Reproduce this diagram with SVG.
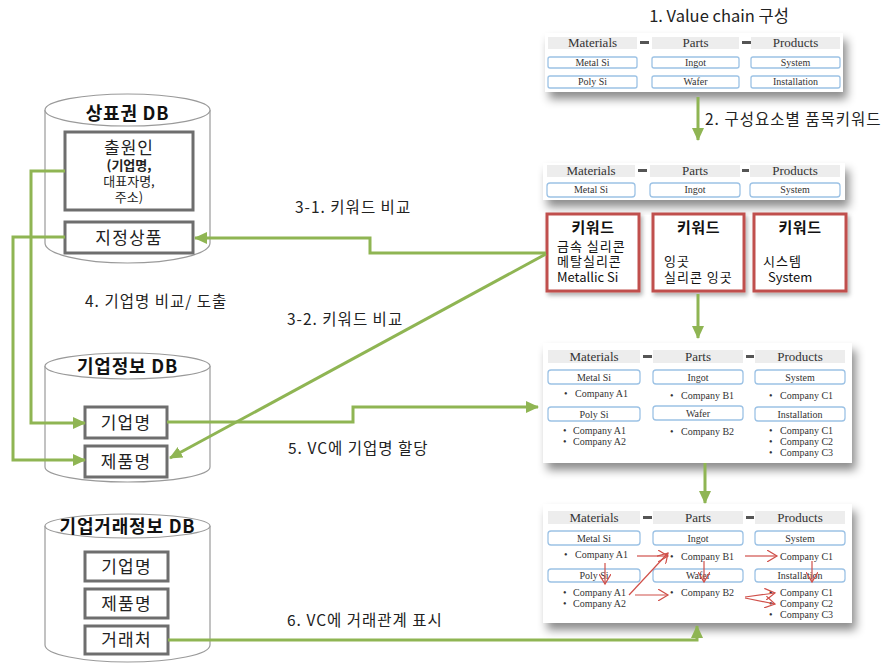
<svg xmlns="http://www.w3.org/2000/svg" width="883" height="664" viewBox="0 0 883 664">
  <defs>
    <filter id="shadow" x="-10%" y="-20%" width="125%" height="160%">
      <feDropShadow dx="4" dy="7" stdDeviation="5" flood-color="#000" flood-opacity="0.45"/>
    </filter>
    <filter id="softShadow" x="-10%" y="-10%" width="130%" height="130%">
      <feDropShadow dx="2" dy="3" stdDeviation="2" flood-color="#000" flood-opacity="0.3"/>
    </filter>
    <marker id="greenHead" markerUnits="userSpaceOnUse" markerWidth="14" markerHeight="12" refX="12" refY="6" orient="auto">
      <path d="M0,0 L13,6 L0,12 z" fill="#8fb553"/>
    </marker>
    <marker id="redHead" markerUnits="userSpaceOnUse" markerWidth="12" markerHeight="12" refX="10" refY="6" orient="auto">
      <path d="M0,0 L10,6 L0,12" fill="none" stroke="#d0504a" stroke-width="1.2"/>
    </marker>
    <style>
      .kr { font-family: "Noto Sans CJK KR", "Noto Sans", sans-serif; fill: #222; }
      .step { font-size: 15.5px; letter-spacing: 1px; }
      .dbTitle { font-size: 18px; font-weight: bold; fill: #111; letter-spacing: 0.8px; }
      .cyl { fill: #fff; stroke: #9a9a9a; stroke-width: 1.2; }
      .field { fill: #fff; stroke: #6e6e6e; stroke-width: 3; }
      .fieldTxt { font-size: 17px; text-anchor: middle; letter-spacing: 1.2px; }
      .panel { fill: #fff; filter: url(#shadow); }
      .hdr { fill: #ededed; }
      .hdrTxt { font-family: "Liberation Serif", serif; font-size: 13px; text-anchor: middle; fill: #333; }
      .dash { fill: #555; }
      .cell { fill: #fff; stroke: #9cc2e5; stroke-width: 1.3; }
      .cellTxt { font-family: "Liberation Serif", serif; font-size: 10px; text-anchor: middle; fill: #333; }
      .co { font-family: "Liberation Serif", serif; font-size: 10px; fill: #333; }
      .kw { fill: #fff; stroke: #c0504d; stroke-width: 3; filter: url(#softShadow); }
      .kwTitle { font-size: 15px; font-weight: bold; text-anchor: middle; fill: #111; letter-spacing: 0.5px; }
      .kwTxt { font-size: 13px; fill: #111; }
      .kwKr { letter-spacing: 1px; }
      .link { fill: none; stroke: #8fb553; stroke-width: 3; }
      .rel { fill: none; stroke: #d0504a; stroke-width: 1.2; }
    </style>
  </defs>

  <rect width="883" height="664" fill="#fff"/>

  <!-- Trademark DB -->
  <g id="db-trademark">
    <path class="cyl" d="M45,110 V243 A82.5,20 0 0 0 210,243 V110"/>
    <ellipse class="cyl" cx="127.5" cy="110" rx="82.5" ry="16"/>
    <text class="kr dbTitle" x="127.5" y="120" text-anchor="middle">상표권 DB</text>
    <rect class="field" x="65" y="132" width="128" height="78"/>
    <text class="kr" font-size="17" x="129" y="154" text-anchor="middle" letter-spacing="1">출원인</text>
    <text class="kr" font-size="13" x="129" y="170" text-anchor="middle" font-weight="bold">(기업명,</text>
    <text class="kr" font-size="13" x="129" y="186" text-anchor="middle">대표자명,</text>
    <text class="kr" font-size="13" x="129" y="202" text-anchor="middle">주소)</text>
    <rect class="field" x="65" y="222" width="128" height="31"/>
    <text class="kr fieldTxt" x="129" y="244">지정상품</text>
  </g>

  <!-- Company info DB -->
  <g id="db-company">
    <path class="cyl" d="M45,366 V467 A82.5,15 0 0 0 210,467 V366"/>
    <ellipse class="cyl" cx="127.5" cy="366" rx="82.5" ry="13"/>
    <text class="kr dbTitle" x="127.5" y="373" text-anchor="middle">기업정보 DB</text>
    <rect class="field" x="85" y="407" width="82" height="31"/>
    <text class="kr fieldTxt" x="126" y="429">기업명</text>
    <rect class="field" x="85" y="446" width="82" height="31"/>
    <text class="kr fieldTxt" x="126" y="468">제품명</text>
  </g>

  <!-- Company transaction DB -->
  <g id="db-transaction">
    <path class="cyl" d="M45,526 V645 A82.5,17 0 0 0 210,645 V526"/>
    <ellipse class="cyl" cx="127.5" cy="526" rx="82.5" ry="12"/>
    <text class="kr dbTitle" x="127.5" y="533" text-anchor="middle">기업거래정보 DB</text>
    <rect class="field" x="85" y="552" width="83" height="29"/>
    <text class="kr fieldTxt" x="126.5" y="573">기업명</text>
    <rect class="field" x="85" y="589" width="83" height="29"/>
    <text class="kr fieldTxt" x="126.5" y="610">제품명</text>
    <rect class="field" x="85" y="626" width="83" height="28"/>
    <text class="kr fieldTxt" x="126.5" y="646">거래처</text>
  </g>

  <!-- Step 1: value chain -->
  <g id="vc-structure">
    <text class="kr" font-size="16.5" x="719" y="22" text-anchor="middle">1. Value chain 구성</text>
    <rect class="panel" x="545" y="33" width="298" height="59"/>
    <rect class="hdr" x="548" y="37" width="89" height="12"/>
    <rect class="hdr" x="652" y="37" width="87" height="12"/>
    <rect class="hdr" x="751" y="37" width="89" height="12"/>
    <rect class="dash" x="640" y="41" width="9" height="3"/>
    <rect class="dash" x="742" y="41" width="9" height="3"/>
    <text class="hdrTxt" x="592.5" y="47">Materials</text>
    <text class="hdrTxt" x="695.5" y="47">Parts</text>
    <text class="hdrTxt" x="795.5" y="47">Products</text>
    <rect class="cell" x="548" y="57" width="89" height="11" rx="2"/>
    <rect class="cell" x="652" y="57" width="87" height="11" rx="2"/>
    <rect class="cell" x="751" y="57" width="89" height="11" rx="2"/>
    <text class="cellTxt" x="592.5" y="66" font-size="9">Metal Si</text>
    <text class="cellTxt" x="695.5" y="66" font-size="9">Ingot</text>
    <text class="cellTxt" x="795.5" y="66" font-size="9">System</text>
    <rect class="cell" x="548" y="76" width="89" height="12" rx="2"/>
    <rect class="cell" x="652" y="76" width="87" height="12" rx="2"/>
    <rect class="cell" x="751" y="76" width="89" height="12" rx="2"/>
    <text class="cellTxt" x="592.5" y="85" font-size="9">Poly Si</text>
    <text class="cellTxt" x="695.5" y="85" font-size="9">Wafer</text>
    <text class="cellTxt" x="795.5" y="85" font-size="9">Installation</text>
  </g>

  <!-- Step 2: keywords per component -->
  <g id="vc-keywords">
    <text class="kr step" x="705" y="125" letter-spacing="0.6">2. 구성요소별 품목키워드</text>
    <rect class="panel" x="543" y="163" width="302" height="37"/>
    <rect class="hdr" x="547" y="165" width="88" height="12"/>
    <rect class="hdr" x="650" y="165" width="90" height="12"/>
    <rect class="hdr" x="750" y="165" width="90" height="12"/>
    <rect class="dash" x="638" y="169" width="9" height="3"/>
    <rect class="dash" x="742" y="169" width="7" height="3"/>
    <text class="hdrTxt" x="591" y="175">Materials</text>
    <text class="hdrTxt" x="695" y="175">Parts</text>
    <text class="hdrTxt" x="795" y="175">Products</text>
    <rect class="cell" x="547" y="183" width="88" height="14" rx="3"/>
    <rect class="cell" x="650" y="183" width="90" height="14" rx="3"/>
    <rect class="cell" x="750" y="183" width="90" height="14" rx="3"/>
    <text class="cellTxt" x="591" y="193" font-size="9">Metal Si</text>
    <text class="cellTxt" x="695" y="193" font-size="9">Ingot</text>
    <text class="cellTxt" x="795" y="193" font-size="9">System</text>
  </g>

  <g id="kw-materials">
    <rect class="kw" x="547" y="214" width="92" height="77"/>
    <text class="kr kwTitle" x="593" y="233">키워드</text>
    <text class="kr kwTxt kwKr" x="557" y="251">금속 실리콘</text>
    <text class="kr kwTxt kwKr" x="557" y="266">메탈실리콘</text>
    <text class="kr kwTxt" x="557" y="282">Metallic Si</text>
  </g>
  <g id="kw-parts">
    <rect class="kw" x="653" y="214" width="91" height="77"/>
    <text class="kr kwTitle" x="698.5" y="233">키워드</text>
    <text class="kr kwTxt kwKr" x="664" y="266">잉곳</text>
    <text class="kr kwTxt kwKr" x="664" y="282">실리콘 잉곳</text>
  </g>
  <g id="kw-products">
    <rect class="kw" x="754" y="214" width="92" height="77"/>
    <text class="kr kwTitle" x="800" y="233">키워드</text>
    <text class="kr kwTxt kwKr" x="763" y="266">시스템</text>
    <text class="kr kwTxt" x="768" y="282">System</text>
  </g>

  <!-- Step 5: companies assigned to the value chain -->
  <g id="vc-companies">
    <rect class="panel" x="543" y="343" width="309" height="120"/>
    <rect class="hdr" x="548" y="350" width="92" height="13"/>
    <rect class="hdr" x="653" y="350" width="90" height="13"/>
    <rect class="hdr" x="755" y="350" width="90" height="13"/>
    <rect class="dash" x="643" y="355" width="9" height="3"/>
    <rect class="dash" x="746" y="355" width="8" height="3"/>
    <text class="hdrTxt" x="594" y="361">Materials</text>
    <text class="hdrTxt" x="698" y="361">Parts</text>
    <text class="hdrTxt" x="800" y="361">Products</text>
    <rect class="cell" x="548" y="370" width="92" height="14" rx="3"/>
    <rect class="cell" x="653" y="370" width="90" height="14" rx="3"/>
    <rect class="cell" x="755" y="370" width="90" height="14" rx="3"/>
    <text class="cellTxt" x="594" y="381">Metal Si</text>
    <text class="cellTxt" x="698" y="381">Ingot</text>
    <text class="cellTxt" x="800" y="381">System</text>
    <text class="co" y="397"><tspan x="564">•</tspan><tspan x="575">Company A1</tspan></text>
    <text class="co" y="399"><tspan x="670">•</tspan><tspan x="681">Company B1</tspan></text>
    <text class="co" y="399"><tspan x="769">•</tspan><tspan x="780">Company C1</tspan></text>
    <rect class="cell" x="548" y="407" width="92" height="14" rx="3"/>
    <rect class="cell" x="653" y="406" width="90" height="14" rx="3"/>
    <rect class="cell" x="755" y="407" width="90" height="14" rx="3"/>
    <text class="cellTxt" x="594" y="418">Poly Si</text>
    <text class="cellTxt" x="698" y="417">Wafer</text>
    <text class="cellTxt" x="800" y="418">Installation</text>
    <text class="co" y="434"><tspan x="563">•</tspan><tspan x="573">Company A1</tspan></text>
    <text class="co" y="445"><tspan x="563">•</tspan><tspan x="573">Company A2</tspan></text>
    <text class="co" y="435"><tspan x="670">•</tspan><tspan x="681">Company B2</tspan></text>
    <text class="co" y="434"><tspan x="769">•</tspan><tspan x="780">Company C1</tspan></text>
    <text class="co" y="445"><tspan x="769">•</tspan><tspan x="780">Company C2</tspan></text>
    <text class="co" y="456"><tspan x="769">•</tspan><tspan x="780">Company C3</tspan></text>
  </g>

  <!-- Step 6: transaction relations on the value chain -->
  <g id="vc-relations">
    <rect class="panel" x="543" y="504" width="309" height="119"/>
    <rect class="hdr" x="548" y="511" width="92" height="13"/>
    <rect class="hdr" x="653" y="511" width="90" height="13"/>
    <rect class="hdr" x="755" y="511" width="90" height="13"/>
    <rect class="dash" x="643" y="516" width="9" height="3"/>
    <rect class="dash" x="746" y="516" width="8" height="3"/>
    <text class="hdrTxt" x="594" y="522">Materials</text>
    <text class="hdrTxt" x="698" y="522">Parts</text>
    <text class="hdrTxt" x="800" y="522">Products</text>
    <rect class="cell" x="548" y="531" width="92" height="14" rx="3"/>
    <rect class="cell" x="653" y="531" width="90" height="14" rx="3"/>
    <rect class="cell" x="755" y="531" width="90" height="14" rx="3"/>
    <text class="cellTxt" x="594" y="542">Metal Si</text>
    <text class="cellTxt" x="698" y="542">Ingot</text>
    <text class="cellTxt" x="800" y="542">System</text>
    <text class="co" y="558"><tspan x="564">•</tspan><tspan x="575">Company A1</tspan></text>
    <text class="co" y="560"><tspan x="670">•</tspan><tspan x="681">Company B1</tspan></text>
    <text class="co" x="780" y="560">Company C1</text>
    <rect class="cell" x="548" y="569" width="92" height="13" rx="3"/>
    <rect class="cell" x="653" y="569" width="90" height="13" rx="3"/>
    <rect class="cell" x="755" y="569" width="90" height="13" rx="3"/>
    <text class="cellTxt" x="594" y="579">Poly Si</text>
    <text class="cellTxt" x="698" y="579">Wafer</text>
    <text class="cellTxt" x="800" y="579">Installation</text>
    <text class="co" y="596"><tspan x="563">•</tspan><tspan x="573">Company A1</tspan></text>
    <text class="co" y="607"><tspan x="563">•</tspan><tspan x="573">Company A2</tspan></text>
    <text class="co" y="596"><tspan x="670">•</tspan><tspan x="681">Company B2</tspan></text>
    <text class="co" y="596"><tspan x="769">•</tspan><tspan x="780">Company C1</tspan></text>
    <text class="co" y="607"><tspan x="769">•</tspan><tspan x="780">Company C2</tspan></text>
    <text class="co" y="618"><tspan x="769">•</tspan><tspan x="780">Company C3</tspan></text>
    <!-- supply relations -->
    <g class="rel" marker-end="url(#redHead)">
      <path d="M637,556 H668"/>
      <path d="M629,595 L668,553"/>
      <path d="M635,595 H668"/>
      <path d="M605,563 V584"/>
      <path d="M704,561 V582"/>
      <path d="M745,556 H777"/>
      <path d="M812,561 V582"/>
      <path d="M745,597 L775,593"/>
      <path d="M745,598 L775,604"/>
    </g>
  </g>

  <!-- connectors -->
  <g id="connectors">
    <path class="link" d="M698,97 V140" marker-end="url(#greenHead)"/>
    <path class="link" d="M698,294 V338" marker-end="url(#greenHead)"/>
    <path class="link" d="M705,463 V503" marker-end="url(#greenHead)"/>
    <path class="link" d="M546,253 H370 V238 H195" marker-end="url(#greenHead)"/>
    <path class="link" d="M546,254 L170,458" marker-end="url(#greenHead)"/>
    <path class="link" d="M65,171 H31 V423 H85" marker-end="url(#greenHead)"/>
    <path class="link" d="M65,237 H13 V460 H85" marker-end="url(#greenHead)"/>
    <path class="link" d="M167,422 H353 V407 H538" marker-end="url(#greenHead)"/>
    <path class="link" d="M168,640 H697 V626" marker-end="url(#greenHead)"/>
  </g>

  <!-- step labels -->
  <g id="labels">
    <text class="kr step" x="295" y="213">3-1. 키워드 비교</text>
    <text class="kr step" x="85" y="307">4. 기업명 비교/ 도출</text>
    <text class="kr step" x="287" y="325">3-2. 키워드 비교</text>
    <text class="kr step" x="288" y="454">5. VC에 기업명 할당</text>
    <text class="kr step" x="287" y="626">6. VC에 거래관계 표시</text>
  </g>
</svg>
